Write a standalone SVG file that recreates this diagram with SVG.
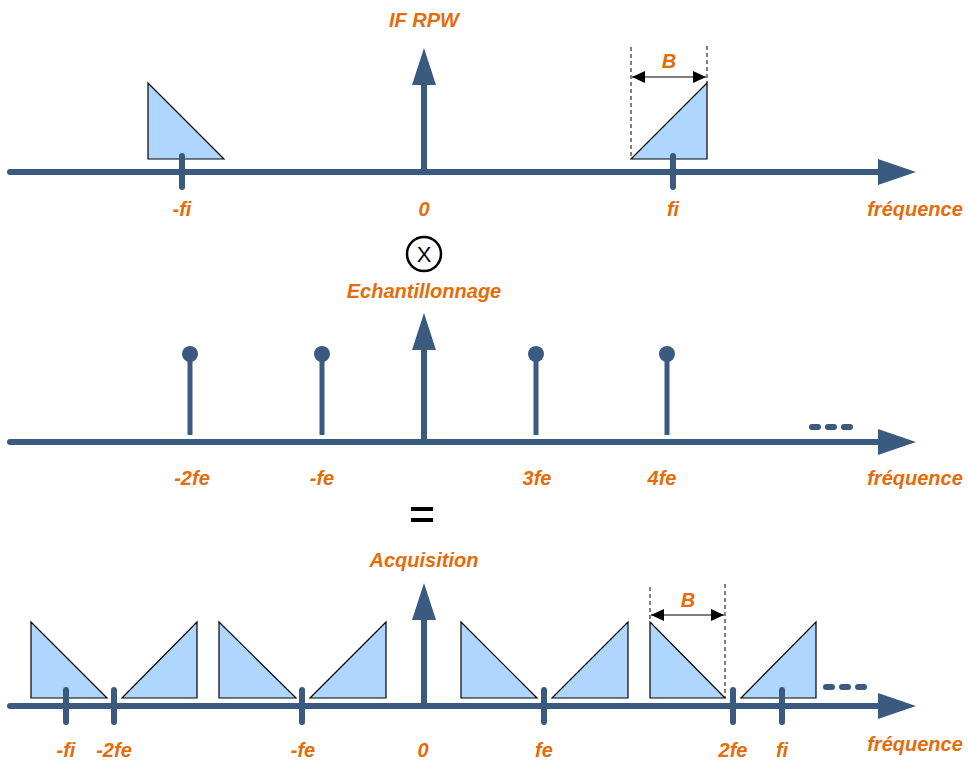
<svg xmlns="http://www.w3.org/2000/svg" width="968" height="765" viewBox="0 0 968 765">
<style>
.ax{stroke:#3A5A80;stroke-width:6;stroke-linecap:round;fill:none}
.tk{stroke:#3A5A80;stroke-width:6;stroke-linecap:round}
.st{stroke:#3A5A80;stroke-width:5}
.hd{fill:#3A5A80}
.tri{fill:#AFD6FE;stroke:#000;stroke-width:1.2;stroke-linejoin:miter}
.lb{font-family:"Liberation Sans",Arial,sans-serif;font-weight:bold;font-style:italic;font-size:20px;fill:#E46C0A;text-anchor:middle}
.dash{stroke:#000;stroke-width:1;stroke-dasharray:4,3}
.dim{stroke:#555;stroke-width:1.5}
.dot{stroke:#3A5A80;stroke-width:6;stroke-linecap:round;stroke-dasharray:6,10}
</style>
<defs>
<marker id="ah" markerWidth="13" markerHeight="12" refX="13" refY="6" orient="auto-start-reverse" markerUnits="userSpaceOnUse">
<path d="M0,0 L13,6 L0,12 Z" fill="#000"/>
</marker>
</defs>

<!-- Panel 1 -->
<g id="panel1">
  <line class="ax" x1="10" y1="172" x2="882" y2="172"/>
  <polygon class="hd" points="878,159 916,172 878,185"/>
  <line class="st" x1="424" y1="172" x2="424" y2="84" style="stroke-width:6"/>
  <polygon class="hd" points="412,85 424,48 436,85"/>
  <polygon class="tri" points="148,83 148,159 224,159"/>
  <polygon class="tri" points="631,159 707,83 707,159"/>
  <line class="tk" x1="182" y1="156" x2="182" y2="187"/>
  <line class="tk" x1="673" y1="156" x2="673" y2="187"/>
  <line class="dash" x1="631" y1="47" x2="631" y2="159"/>
  <line class="dash" x1="707" y1="46" x2="707" y2="83"/>
  <line class="dim" x1="632" y1="77" x2="706" y2="77" marker-start="url(#ah)" marker-end="url(#ah)"/>
  <text class="lb" x="669" y="68">B</text>
  <text class="lb" x="424" y="27">IF RPW</text>
  <text class="lb" x="182" y="216">-fi</text>
  <text class="lb" x="424" y="216">0</text>
  <text class="lb" x="673" y="216">fi</text>
  <text class="lb" x="915" y="216">fréquence</text>
</g>

<g id="times">
  <circle cx="424" cy="254" r="17" fill="none" stroke="#000" stroke-width="2.5"/>
  <text x="424" y="262" text-anchor="middle" font-family="Liberation Sans,Arial,sans-serif" font-size="22" fill="#000">X</text>
</g>

<!-- Panel 2 -->
<g id="panel2">
  <text class="lb" x="424" y="298">Echantillonnage</text>
  <line class="ax" x1="10" y1="442" x2="882" y2="442"/>
  <polygon class="hd" points="878,429 916,442 878,455"/>
  <line class="st" x1="424" y1="442" x2="424" y2="349" style="stroke-width:6"/>
  <polygon class="hd" points="412,350 424,313 436,350"/>
  <line class="st" x1="190" y1="435" x2="190" y2="356"/>
  <circle class="hd" cx="190" cy="354" r="8"/>
  <line class="st" x1="322" y1="435" x2="322" y2="356"/>
  <circle class="hd" cx="322" cy="354" r="8"/>
  <line class="st" x1="536" y1="435" x2="536" y2="356"/>
  <circle class="hd" cx="536" cy="354" r="8"/>
  <line class="st" x1="667" y1="435" x2="667" y2="356"/>
  <circle class="hd" cx="667" cy="354" r="8"/>
  <line class="dot" x1="812" y1="427" x2="854" y2="427"/>
  <text class="lb" x="192" y="485">-2fe</text>
  <text class="lb" x="322" y="485">-fe</text>
  <text class="lb" x="537" y="485">3fe</text>
  <text class="lb" x="662" y="485">4fe</text>
  <text class="lb" x="915" y="485">fréquence</text>
</g>

<g id="equals">
  <rect x="411" y="507" width="22" height="4" fill="#000"/>
  <rect x="411" y="518" width="22" height="4" fill="#000"/>
</g>

<!-- Panel 3 -->
<g id="panel3">
  <text class="lb" x="424" y="567">Acquisition</text>
  <line class="ax" x1="10" y1="706" x2="882" y2="706"/>
  <polygon class="hd" points="878,693 916,706 878,719"/>
  <line class="st" x1="424" y1="706" x2="424" y2="619" style="stroke-width:6"/>
  <polygon class="hd" points="412,620 424,583 436,620"/>
  <polygon class="tri" points="31,622 31,698 107,698"/>
  <polygon class="tri" points="122,698 197,622 197,698"/>
  <polygon class="tri" points="219,622 219,698 296,698"/>
  <polygon class="tri" points="310,698 386,622 386,698"/>
  <polygon class="tri" points="461,622 461,698 537,698"/>
  <polygon class="tri" points="552,698 628,622 628,698"/>
  <polygon class="tri" points="650,622 650,698 725,698"/>
  <polygon class="tri" points="741,698 816,622 816,698"/>
  <line class="tk" x1="66" y1="690" x2="66" y2="722"/>
  <line class="tk" x1="114" y1="690" x2="114" y2="722"/>
  <line class="tk" x1="302" y1="690" x2="302" y2="722"/>
  <line class="tk" x1="544" y1="690" x2="544" y2="722"/>
  <line class="tk" x1="733" y1="690" x2="733" y2="722"/>
  <line class="tk" x1="782" y1="690" x2="782" y2="722"/>
  <line class="dash" x1="650" y1="587" x2="650" y2="622"/>
  <line class="dash" x1="725" y1="584" x2="725" y2="698"/>
  <line class="dim" x1="651" y1="615" x2="724" y2="615" marker-start="url(#ah)" marker-end="url(#ah)"/>
  <text class="lb" x="688" y="607">B</text>
  <line class="dot" x1="826" y1="687" x2="866" y2="687"/>
  <text class="lb" x="66" y="757">-fi</text>
  <text class="lb" x="114" y="757">-2fe</text>
  <text class="lb" x="303" y="757">-fe</text>
  <text class="lb" x="423" y="757">0</text>
  <text class="lb" x="544" y="757">fe</text>
  <text class="lb" x="733" y="757">2fe</text>
  <text class="lb" x="782" y="757">fi</text>
  <text class="lb" x="915" y="751">fréquence</text>
</g>
</svg>
